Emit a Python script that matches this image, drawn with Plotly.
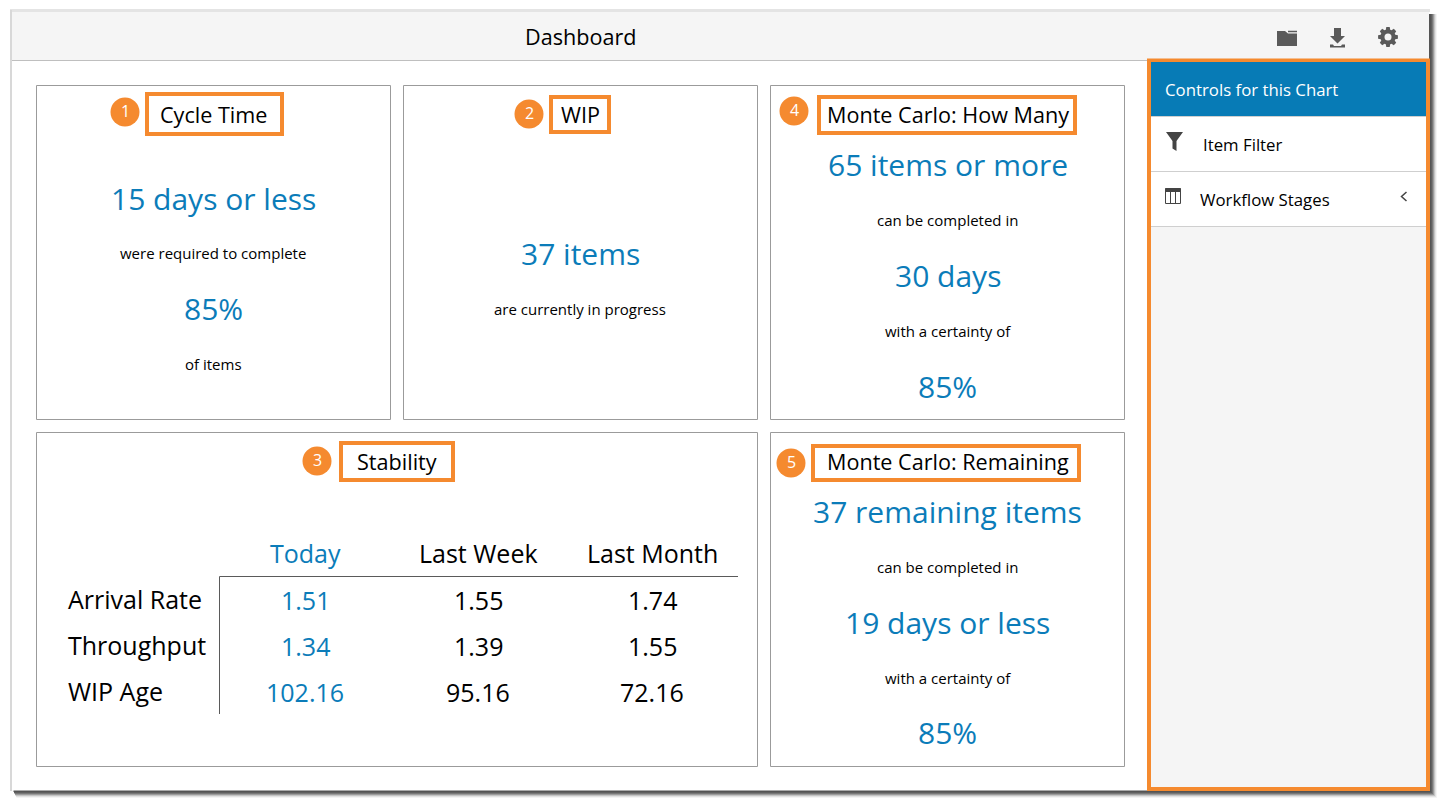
import math
import plotly.graph_objects as go

# card text
cycle_lines = ["15 days or less", "were required to complete", "85%", "of items"]
wip_lines = ["37 items", "are currently in progress"]
how_many_lines = ["65 items or more", "can be completed in", "30 days", "with a certainty of", "85%"]
remaining_lines = ["37 remaining items", "can be completed in", "19 days or less", "with a certainty of", "85%"]

# stability table
periods = ["Today", "Last Week", "Last Month"]
metrics = ["Arrival Rate", "Throughput", "WIP Age"]
today = [1.51, 1.34, 102.16]
last_week = [1.55, 1.39, 95.16]
last_month = [1.74, 1.55, 72.16]

controls = ["Item Filter", "Workflow Stages"]

FONT = "Open Sans"
BLUE = "#0b7cb9"
ORANGE = "#f58a2f"
GREY = "#5a5a5a"
W, H = 1448, 809

shapes = []
annotations = []


def rect(x0, y0, x1, y1, fill=None, line=None, width=1):
    shapes.append(dict(type="rect", x0=x0, y0=y0, x1=x1, y1=y1,
                       fillcolor=fill or "rgba(0,0,0,0)",
                       line=dict(color=line or "rgba(0,0,0,0)", width=width if line else 0)))


def hline(x0, x1, y, color, width=1):
    shapes.append(dict(type="line", x0=x0, x1=x1, y0=y, y1=y, line=dict(color=color, width=width)))


def vline(x, y0, y1, color, width=1):
    shapes.append(dict(type="line", x0=x, x1=x, y0=y0, y1=y1, line=dict(color=color, width=width)))


def path(d, fill=GREY):
    shapes.append(dict(type="path", path=d, fillcolor=fill, line=dict(width=0)))


def text(x, y, s, size, color="#000000", anchor="center"):
    annotations.append(dict(x=x, y=y, text=s, showarrow=False, xanchor=anchor, yanchor="middle",
                            font=dict(family=FONT, size=size, color=color)))


def badge(x, y, n):
    shapes.append(dict(type="circle", x0=x - 14.5, x1=x + 14.5, y0=y - 14.5, y1=y + 14.5,
                       fillcolor=ORANGE, line=dict(width=0)))
    text(x, y - 1, str(n), 16, "#ffffff")


def title_box(x0, y0, x1, y1, s, cx, cy):
    rect(x0 + 2, y0 + 2, x1 - 2, y1 - 2, "#ffffff", ORANGE, 4)
    text(cx, cy, s, 21.6)


# window shadow
for i, col in enumerate(["#f4f4f4", "#e2e2e2", "#c4c4c4", "#9c9c9c", "#787878", "#606060", "#545454"]):
    off = 7 - i
    rect(13 + off / 2, 14, 1430 + off, 791 + off, col)
rect(10, 9, 1430, 12, "#e4e4e4")
rect(10, 10, 12, 791, "#d8d8d8")
rect(12, 12, 1429, 790.5, "#ffffff")

# header
rect(12, 12, 1429, 60, "#f5f5f5")
hline(12, 1148, 60.5, "#bfbfbf")
text(580, 36, "Dashboard", 21.6)

# header icons
path("M1277 31 L1285 31 L1288 33.5 L1297 33.5 L1297 46 L1277 46 Z")
hline(1288, 1297, 31.5, GREY, 1.5)
path("M1334 28 L1341 28 L1341 36 L1345 36 L1337.5 43.5 L1330 36 L1334 36 Z")
path("M1330 44.5 L1333 44.5 L1334 46 L1341 46 L1342 44.5 L1345 44.5 L1345 47.5 L1330 47.5 Z")

gear = []
for k in range(8):
    a = k * math.pi / 4
    for da, r in [(-0.30, 7.6), (-0.17, 10), (0.17, 10), (0.30, 7.6)]:
        gear.append((1388 + r * math.cos(a + da), 37 + r * math.sin(a + da)))
path("M" + " L".join(f"{x:.1f} {y:.1f}" for x, y in gear) + " Z")
shapes.append(dict(type="circle", x0=1384.5, x1=1391.5, y0=33.5, y1=40.5, fillcolor="#f5f5f5", line=dict(width=0)))

# cards
rect(36.5, 85.5, 390.5, 419.5, None, "#9b9b9b")
rect(403.5, 85.5, 757.5, 419.5, None, "#9b9b9b")
rect(770.5, 85.5, 1124.5, 419.5, None, "#9b9b9b")
rect(36.5, 432.5, 757.5, 766.5, None, "#9b9b9b")
rect(770.5, 432.5, 1124.5, 766.5, None, "#9b9b9b")

title_box(145, 92, 284, 136, "Cycle Time", 213.5, 114)
title_box(549, 95, 611, 134, "WIP", 580.5, 114)
title_box(817, 95, 1077, 135, "Monte Carlo: How Many", 948, 114)
title_box(339, 441, 455, 482, "Stability", 397, 461)
title_box(811, 444, 1081, 482, "Monte Carlo: Remaining", 948, 461)

badge(125, 112, 1)
badge(529, 114, 2)
badge(794, 111, 4)
badge(317, 461, 3)
badge(791, 463, 5)

# card bodies, big and small lines alternate
for s, y, big in zip(cycle_lines, [198, 253, 308, 364], [1, 0, 1, 0]):
    text(213, y, s, 30 if big else 15, BLUE if big else "#000000")
for s, y, big in zip(wip_lines, [253, 309], [1, 0]):
    text(580, y, s, 30 if big else 15, BLUE if big else "#000000")
for s, y, big in zip(how_many_lines, [164, 220, 275, 331, 386], [1, 0, 1, 0, 1]):
    text(947.5, y, s, 30 if big else 15, BLUE if big else "#000000")
for s, y, big in zip(remaining_lines, [511, 567, 622, 678, 732], [1, 0, 1, 0, 1]):
    text(947.5, y, s, 30 if big else 15, BLUE if big else "#000000")

# stability table
col_x = [305, 478, 652]
row_y = [599, 645, 691]
hline(219.5, 738, 576.5, GREY)
vline(219.5, 576.5, 714, GREY)
for x, p, c in zip(col_x, periods, [BLUE, "#000000", "#000000"]):
    text(x, 553, p, 25, c)
for y, m in zip(row_y, metrics):
    text(65.5, y, m, 25, anchor="left")
for x, vals, c in zip(col_x, [today, last_week, last_month], [BLUE, "#000000", "#000000"]):
    for y, v in zip(row_y, vals):
        text(x, y + 1, f"{v:.2f}", 25, c)

# controls panel
rect(1149, 60.5, 1428, 789, "#f5f5f5", ORANGE, 4)
rect(1151, 62, 1426, 116, "#077bb6")
rect(1151, 117, 1426, 171, "#ffffff")
rect(1151, 172, 1426, 226, "#ffffff")
hline(1151, 1426, 116.5, "#cfcfcf")
hline(1151, 1426, 171.5, "#cfcfcf")
hline(1151, 1426, 226.5, "#cfcfcf")
text(1162.5, 89.5, "Controls for this Chart", 16.8, "#ffffff", "left")
text(1200.5, 144, controls[0], 16.8, "#000000", "left")
text(1197.5, 199, controls[1], 16.8, "#000000", "left")

path("M1166 132 L1183 132 L1176.5 141 L1176.5 151 L1172.5 148.5 L1172.5 141 Z", "#444444")
rect(1165.5, 188.5, 1180.5, 203.5, None, "#444444", 1)
rect(1165.5, 188, 1180.5, 192, "#444444")
vline(1170.5, 190, 204, "#444444")
vline(1175.5, 190, 204, "#444444")
shapes.append(dict(type="path", path="M1406.5 192 L1401.5 196.5 L1406.5 201",
                   line=dict(color="#444444", width=1.5)))

fig = go.Figure()
fig.update_layout(
    width=W, height=H,
    margin=dict(l=0, r=0, t=0, b=0),
    paper_bgcolor="#ffffff", plot_bgcolor="#ffffff",
    xaxis=dict(range=[0, W], visible=False, fixedrange=True),
    yaxis=dict(range=[H, 0], visible=False, fixedrange=True),
    shapes=shapes, annotations=annotations, showlegend=False,
)
fig.write_html("out.html", config=dict(displayModeBar=False),
               post_script="document.body.style.margin='0';")
